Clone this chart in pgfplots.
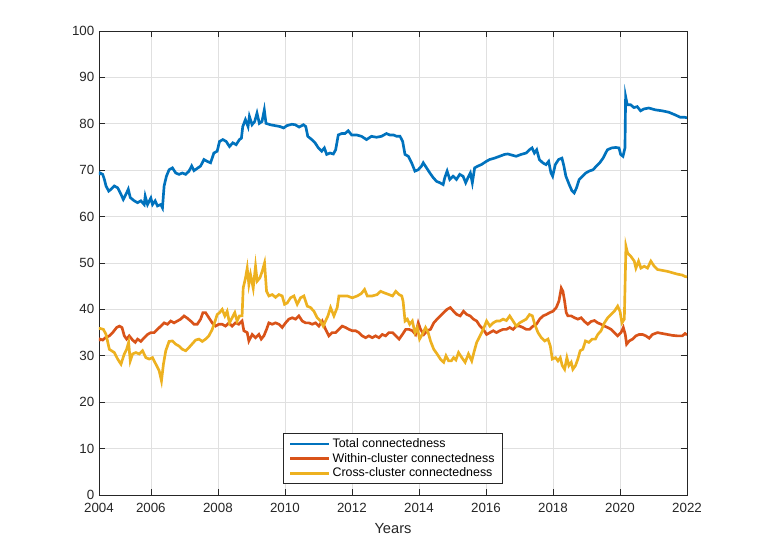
\documentclass[border=0pt]{standalone}
\usepackage{fontspec}
\setmainfont{Liberation Sans}
\usepackage{pgfplots}
\pgfplotsset{compat=1.18}
\definecolor{mblue}{rgb}{0,0.447,0.741}
\definecolor{morange}{rgb}{0.85,0.325,0.098}
\definecolor{myellow}{rgb}{0.929,0.694,0.125}
\definecolor{axgray}{rgb}{0.15,0.15,0.15}
\begin{document}
\begin{tikzpicture}
\useasboundingbox (-74.25pt,-47.25pt) rectangle (495pt,371.25pt);
\begin{axis}[
  at={(0pt,0pt)}, anchor=south west,
  scale only axis, width=441pt, height=348pt,
  xmin=2004.453, xmax=2022, ymin=0, ymax=100,
  xtick={2004.453,2006,2008,2010,2012,2014,2016,2018,2020,2022},
  xticklabels={2004,2006,2008,2010,2012,2014,2016,2018,2020,2022},
  ytick={0,10,20,30,40,50,60,70,80,90,100},
  grid=major, major grid style={color=black!12, line width=0.5pt},
  tick align=inside, xtick pos=both, ytick pos=both,
  major tick length=4.4pt,
  axis line style={axgray, line width=0.5pt},
  tick style={axgray, line width=0.5pt},
  ticklabel style={font=\fontsize{10}{12}\selectfont, text=axgray},
  xticklabel style={yshift=-2.5pt},
  /pgf/number format/assume math mode=true,
  xlabel={Years}, xlabel style={font=\fontsize{11}{13}\selectfont, text=axgray, yshift=-1pt},
  legend style={at={(0.5,0.024)}, anchor=south, draw=axgray, line width=0.5pt,
    font=\fontsize{9.3}{11}\selectfont, row sep=-1.2pt, inner xsep=4pt, inner ysep=1.5pt, cells={anchor=west}},
  legend image code/.code={\draw[#1, line width=1.8pt] (0pt,0pt) -- (29pt,0pt);},
]
\addplot[mblue, line width=2pt] coordinates {
(2004.453,69.0) (2004.485,69.4) (2004.564,69.1) (2004.614,68.0) (2004.663,66.6) (2004.743,65.5) (2004.812,65.9) (2004.911,66.6) (2005.01,66.2) (2005.109,64.8) (2005.178,63.7) (2005.257,64.8) (2005.327,65.9) (2005.386,64.1) (2005.505,63.4) (2005.604,63.0) (2005.703,63.4) (2005.802,62.6) (2005.832,64.4) (2005.901,62.6) (2006.0,64.0) (2006.05,62.6) (2006.129,63.4) (2006.198,62.3) (2006.297,62.6) (2006.347,61.9) (2006.396,66.6) (2006.465,68.7) (2006.545,70.1) (2006.644,70.5) (2006.743,69.4) (2006.842,69.1) (2006.941,69.4) (2007.04,69.1) (2007.139,69.8) (2007.218,70.9) (2007.287,69.9) (2007.386,70.4) (2007.485,70.9) (2007.584,72.3) (2007.683,71.9) (2007.782,71.6) (2007.881,73.7) (2007.98,74.1) (2008.05,76.2) (2008.149,76.6) (2008.248,76.2) (2008.347,75.1) (2008.446,75.9) (2008.545,75.5) (2008.644,76.6) (2008.703,76.9) (2008.743,79.4) (2008.822,80.9) (2008.901,79.4) (2008.941,81.6) (2009.02,79.8) (2009.099,80.5) (2009.168,82.3) (2009.238,80.1) (2009.317,80.5) (2009.386,83.0) (2009.436,80.1) (2009.564,79.8) (2009.713,79.6) (2009.861,79.4) (2009.96,79.1) (2010.059,79.6) (2010.208,79.9) (2010.307,79.8) (2010.426,79.3) (2010.554,79.8) (2010.624,79.4) (2010.683,77.3) (2010.802,76.6) (2010.901,75.9) (2011.0,74.8) (2011.099,74.1) (2011.178,74.8) (2011.248,73.4) (2011.347,73.7) (2011.446,73.5) (2011.515,74.4) (2011.594,77.6) (2011.693,77.9) (2011.792,77.9) (2011.891,78.5) (2011.99,77.6) (2012.139,77.6) (2012.287,77.3) (2012.436,76.6) (2012.584,77.3) (2012.733,77.1) (2012.881,77.3) (2013.03,77.9) (2013.129,77.6) (2013.238,77.6) (2013.337,77.3) (2013.436,77.3) (2013.515,76.2) (2013.584,73.4) (2013.683,73.0) (2013.782,71.6) (2013.881,69.8) (2013.98,70.1) (2014.079,70.9) (2014.129,71.6) (2014.228,70.5) (2014.327,69.4) (2014.426,68.4) (2014.525,67.6) (2014.624,67.3) (2014.723,66.9) (2014.772,68.4) (2014.842,69.8) (2014.921,68.0) (2015.02,68.7) (2015.119,68.0) (2015.218,69.1) (2015.317,68.7) (2015.396,67.3) (2015.465,68.4) (2015.535,69.4) (2015.594,67.3) (2015.663,70.5) (2015.762,70.9) (2015.861,71.2) (2016.01,71.9) (2016.109,72.3) (2016.257,72.6) (2016.406,73.0) (2016.554,73.4) (2016.653,73.5) (2016.802,73.2) (2016.901,73.0) (2017.05,73.4) (2017.198,73.7) (2017.297,74.4) (2017.376,74.8) (2017.446,73.7) (2017.515,74.4) (2017.594,72.3) (2017.693,71.6) (2017.792,71.2) (2017.871,71.9) (2017.941,69.4) (2017.99,68.7) (2018.069,71.2) (2018.168,72.3) (2018.267,72.6) (2018.317,71.2) (2018.386,68.7) (2018.485,66.9) (2018.564,65.6) (2018.634,65.1) (2018.703,66.2) (2018.782,68.0) (2018.881,68.7) (2018.98,69.4) (2019.079,69.8) (2019.198,70.1) (2019.297,70.9) (2019.396,71.6) (2019.495,72.6) (2019.624,74.4) (2019.752,74.8) (2019.871,74.9) (2019.97,74.8) (2020.02,73.4) (2020.089,73.0) (2020.149,74.8) (2020.168,85.9) (2020.218,84.1) (2020.317,84.1) (2020.416,83.5) (2020.515,83.7) (2020.614,82.8) (2020.713,83.2) (2020.861,83.4) (2021.059,83.0) (2021.257,82.8) (2021.455,82.5) (2021.653,81.9) (2021.802,81.4) (2021.931,81.4) (2022,81.3)
};
\addlegendentry{Total connectedness}
\addplot[morange, line width=2pt] coordinates {
(2004.453,33.2) (2004.485,33.6) (2004.564,33.4) (2004.644,33.9) (2004.762,34.3) (2004.861,35.0) (2004.98,36.1) (2005.059,36.4) (2005.139,36.1) (2005.208,34.3) (2005.277,33.6) (2005.356,34.3) (2005.455,33.4) (2005.535,32.9) (2005.604,33.6) (2005.703,33.1) (2005.802,33.9) (2005.901,34.6) (2006.0,35.0) (2006.099,35.0) (2006.198,35.7) (2006.297,36.4) (2006.396,37.1) (2006.495,36.8) (2006.594,37.5) (2006.693,37.1) (2006.792,37.5) (2006.891,37.9) (2006.99,38.6) (2007.089,38.1) (2007.188,37.5) (2007.287,36.8) (2007.386,36.8) (2007.485,37.9) (2007.554,39.3) (2007.634,39.3) (2007.733,38.2) (2007.832,37.1) (2007.931,36.4) (2008.03,36.8) (2008.129,36.8) (2008.228,36.4) (2008.327,37.1) (2008.426,36.4) (2008.525,37.1) (2008.624,36.8) (2008.723,37.5) (2008.776,35.4) (2008.876,35.0) (2008.925,33.2) (2009.025,34.6) (2009.124,33.9) (2009.224,34.6) (2009.294,33.6) (2009.373,34.3) (2009.453,35.7) (2009.522,37.1) (2009.622,36.8) (2009.721,37.1) (2009.821,36.8) (2009.92,36.1) (2010.02,37.1) (2010.119,37.9) (2010.219,38.2) (2010.318,37.9) (2010.418,38.6) (2010.517,37.5) (2010.617,37.1) (2010.716,37.1) (2010.816,36.8) (2010.915,37.1) (2011.015,36.4) (2011.114,37.5) (2011.214,35.7) (2011.313,34.3) (2011.413,35.0) (2011.512,35.0) (2011.612,35.7) (2011.711,36.4) (2011.811,36.1) (2011.91,35.7) (2012.01,35.4) (2012.109,35.4) (2012.209,35.0) (2012.308,34.3) (2012.408,33.9) (2012.507,34.3) (2012.607,33.9) (2012.706,34.3) (2012.806,33.9) (2012.905,34.6) (2013.005,34.3) (2013.104,35.0) (2013.212,35.0) (2013.31,34.3) (2013.409,33.6) (2013.507,34.6) (2013.606,35.7) (2013.704,35.7) (2013.803,35.4) (2013.901,34.6) (2013.98,37.1) (2014.049,35.7) (2014.148,34.6) (2014.246,35.4) (2014.345,35.7) (2014.443,37.1) (2014.542,37.9) (2014.64,38.6) (2014.739,39.3) (2014.837,40.0) (2014.936,40.4) (2015.034,39.6) (2015.133,38.9) (2015.232,38.6) (2015.33,39.6) (2015.429,38.9) (2015.527,38.6) (2015.626,37.9) (2015.724,37.5) (2015.823,36.4) (2015.921,35.7) (2016.02,34.6) (2016.118,35.0) (2016.217,35.4) (2016.315,35.0) (2016.414,35.4) (2016.512,35.7) (2016.611,35.7) (2016.709,36.1) (2016.808,35.7) (2016.906,36.4) (2017.005,36.4) (2017.103,36.1) (2017.202,35.7) (2017.3,35.7) (2017.406,36.4) (2017.505,36.8) (2017.604,37.9) (2017.703,38.6) (2017.802,38.9) (2017.901,39.3) (2018.0,39.6) (2018.099,40.4) (2018.178,41.8) (2018.248,44.6) (2018.297,43.9) (2018.347,41.8) (2018.396,39.3) (2018.446,38.6) (2018.545,38.6) (2018.644,38.2) (2018.743,37.9) (2018.842,38.2) (2018.941,37.4) (2019.04,36.8) (2019.139,37.4) (2019.238,37.6) (2019.337,37.1) (2019.436,36.8) (2019.535,36.4) (2019.634,36.1) (2019.733,35.7) (2019.832,35.0) (2019.931,34.3) (2020.03,35.0) (2020.099,36.1) (2020.158,34.6) (2020.198,32.5) (2020.277,33.2) (2020.376,33.6) (2020.475,34.3) (2020.574,34.6) (2020.673,34.6) (2020.772,34.3) (2020.871,33.8) (2020.97,34.6) (2021.119,35.0) (2021.267,34.8) (2021.416,34.6) (2021.564,34.4) (2021.713,34.3) (2021.861,34.3) (2021.941,34.8) (2022,34.5)
};
\addlegendentry{Within-cluster connectedness}
\addplot[myellow, line width=2pt] coordinates {
(2004.453,35.9) (2004.485,35.9) (2004.584,35.7) (2004.663,34.6) (2004.762,31.4) (2004.911,30.7) (2005.01,29.3) (2005.109,28.2) (2005.208,30.4) (2005.277,31.4) (2005.337,32.9) (2005.386,28.9) (2005.455,30.4) (2005.554,30.7) (2005.653,30.4) (2005.752,31.1) (2005.851,29.6) (2005.95,29.3) (2006.05,29.6) (2006.149,28.2) (2006.248,26.8) (2006.317,24.6) (2006.376,28.2) (2006.446,31.1) (2006.545,33.1) (2006.644,33.2) (2006.743,32.5) (2006.842,32.1) (2006.941,31.4) (2007.04,31.1) (2007.139,31.8) (2007.238,32.6) (2007.337,33.4) (2007.436,33.6) (2007.535,33.1) (2007.634,33.6) (2007.733,34.3) (2007.832,35.7) (2007.901,37.1) (2007.98,38.9) (2008.05,39.3) (2008.129,40.0) (2008.208,38.6) (2008.277,39.6) (2008.347,37.1) (2008.426,38.2) (2008.505,39.3) (2008.574,37.5) (2008.644,38.6) (2008.723,38.6) (2008.756,44.6) (2008.826,46.8) (2008.876,48.9) (2008.925,45.4) (2008.975,47.5) (2009.055,44.6) (2009.124,49.3) (2009.174,46.1) (2009.254,46.8) (2009.323,48.2) (2009.393,50.0) (2009.453,43.9) (2009.522,42.9) (2009.622,43.2) (2009.721,42.6) (2009.821,43.2) (2009.92,42.9) (2009.99,41.1) (2010.07,41.4) (2010.169,42.5) (2010.269,42.9) (2010.368,41.1) (2010.468,42.5) (2010.567,42.9) (2010.667,40.7) (2010.766,40.4) (2010.866,39.6) (2010.965,38.2) (2011.065,37.5) (2011.144,36.4) (2011.214,37.5) (2011.284,38.6) (2011.363,40.4) (2011.463,38.6) (2011.562,40.4) (2011.612,42.9) (2011.711,42.9) (2011.861,42.9) (2012.01,42.5) (2012.159,42.9) (2012.279,43.4) (2012.378,44.3) (2012.458,42.9) (2012.607,42.9) (2012.756,43.2) (2012.856,43.9) (2012.955,43.6) (2013.104,43.2) (2013.212,42.9) (2013.31,43.9) (2013.409,43.2) (2013.488,42.9) (2013.527,41.8) (2013.586,37.5) (2013.655,37.9) (2013.724,36.8) (2013.803,37.5) (2013.882,35.0) (2013.951,36.1) (2014.02,33.6) (2014.099,34.6) (2014.197,36.1) (2014.276,35.0) (2014.345,33.2) (2014.443,31.4) (2014.542,30.4) (2014.64,29.3) (2014.739,28.6) (2014.808,30.0) (2014.887,28.9) (2014.966,28.9) (2015.034,29.6) (2015.103,29.1) (2015.182,30.7) (2015.281,29.6) (2015.379,28.6) (2015.478,30.4) (2015.576,28.9) (2015.655,31.1) (2015.724,32.9) (2015.823,34.3) (2015.921,35.7) (2016.02,37.5) (2016.118,36.4) (2016.217,37.1) (2016.315,37.5) (2016.414,37.5) (2016.512,37.9) (2016.611,37.6) (2016.709,38.6) (2016.808,37.5) (2016.906,36.4) (2017.005,37.1) (2017.103,37.5) (2017.202,37.9) (2017.3,38.9) (2017.386,38.6) (2017.455,36.8) (2017.554,35.0) (2017.653,33.9) (2017.752,33.2) (2017.851,33.6) (2017.921,32.1) (2017.98,29.3) (2018.079,29.6) (2018.149,28.9) (2018.218,29.6) (2018.277,27.9) (2018.347,27.1) (2018.416,29.6) (2018.475,27.9) (2018.545,28.6) (2018.594,27.1) (2018.673,27.9) (2018.743,29.3) (2018.812,31.1) (2018.891,31.4) (2018.97,33.2) (2019.069,32.9) (2019.168,33.6) (2019.267,33.6) (2019.337,34.6) (2019.436,35.4) (2019.535,37.1) (2019.634,38.2) (2019.733,38.9) (2019.832,39.6) (2019.931,40.7) (2020.0,39.6) (2020.059,37.1) (2020.129,37.9) (2020.178,53.6) (2020.228,52.1) (2020.327,51.4) (2020.426,50.4) (2020.475,48.9) (2020.554,50.4) (2020.624,48.9) (2020.723,49.3) (2020.822,48.9) (2020.921,50.4) (2021.02,49.3) (2021.119,48.6) (2021.267,48.4) (2021.416,48.2) (2021.564,47.9) (2021.713,47.6) (2021.861,47.4) (2021.941,47.1) (2022,47.0)
};
\addlegendentry{Cross-cluster connectedness}
\end{axis}
\end{tikzpicture}
\end{document}
